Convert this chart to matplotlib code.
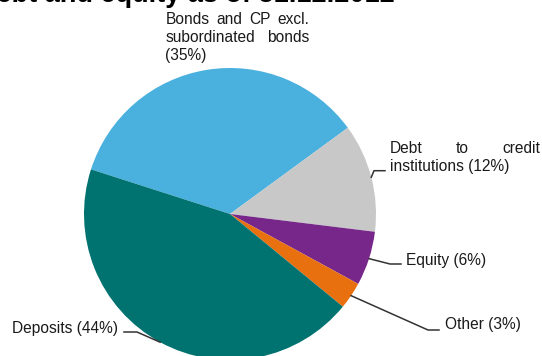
import matplotlib.pyplot as plt
import numpy as np

# Breakdown of debt and equity, share of total (%)
names = ['Bonds and CP excl. subordinated bonds', 'Debt to credit institutions',
         'Equity', 'Other', 'Deposits']
shares = [35, 12, 6, 3, 44]
colors = ['#4AB1DF', '#C8C8C8', '#77278A', '#E8700F', '#00726F']

W, H = 542, 356
FONT = 'Liberation Sans'
FS = 11.2

fig = plt.figure(figsize=(W / 100, H / 100), dpi=100)
ax = fig.add_axes([0, 0, 1, 1])

cx, cy, r = 230, H - 214, 146
wedges, _ = ax.pie(shares, colors=colors, startangle=162.2, counterclock=False,
                   center=(cx, cy), radius=r, wedgeprops=dict(linewidth=0))
ax.set_xlim(0, W)
ax.set_ylim(0, H)
ax.set_aspect('equal')
ax.axis('off')

renderer = fig.canvas.get_renderer()


def px(x, y):
    # pixel coords from the top-left corner -> data coords
    return x, H - y


def justified(lines, x0, width, y0, lh):
    # justify every line but the last one, like a text box in a report
    for i, line in enumerate(lines):
        y = y0 + i * lh
        words = line.split()
        if i == len(lines) - 1 or len(words) == 1:
            ax.text(*px(x0, y), line, fontsize=FS, family=FONT, color='#1a1a1a',
                    va='baseline', ha='left')
            continue
        txts = [ax.text(*px(x0, y), w, fontsize=FS, family=FONT, color='#1a1a1a',
                        va='baseline', ha='left') for w in words]
        widths = [t.get_window_extent(renderer).width for t in txts]
        gap = (width - sum(widths)) / (len(words) - 1)
        x = x0
        for t, wd in zip(txts, widths):
            t.set_x(x)
            x += wd + gap


# leader lines from the middle of each wedge edge
elbows = {
    1: [(374, 170.7), (385, 170.7)],
    2: [(390, 264), (401, 264)],
    3: [(428, 330), (439, 330)],
    4: [(137, 332), (124, 332)],
}
for i, pts in elbows.items():
    w = wedges[i]
    mid = np.deg2rad((w.theta1 + w.theta2) / 2)
    sx, sy = cx + r * np.cos(mid), cy + r * np.sin(mid)
    xs = [sx] + [p[0] for p in pts]
    ys = [sy] + [H - p[1] for p in pts]
    ax.plot(xs, ys, color='#333333', lw=1.1, clip_on=False)

justified(['Bonds and CP excl.', 'subordinated bonds', '(%d%%)' % shares[0]],
          165.5, 143.5, 24, 18)
justified(['Debt to credit', 'institutions (%d%%)' % shares[1]],
          390, 150, 153, 18)
ax.text(*px(405.5, 261), 'Equity (%d%%)' % shares[2], fontsize=FS, family=FONT,
        color='#1a1a1a', va='center', ha='left')
ax.text(*px(445, 325), 'Other (%d%%)' % shares[3], fontsize=FS, family=FONT,
        color='#1a1a1a', va='center', ha='left')
ax.text(*px(11.5, 328), 'Deposits (%d%%)' % shares[4], fontsize=FS, family=FONT,
        color='#1a1a1a', va='center', ha='left')

# title, partly cut off at the top edge of the picture
fig.text(-23 / W, 1 - 1.5 / H, 'Debt and equity as of 31.12.2012', fontsize=19.5,
         fontweight='bold', family=FONT, va='baseline', ha='left')

fig.savefig('out.png', dpi=100)
